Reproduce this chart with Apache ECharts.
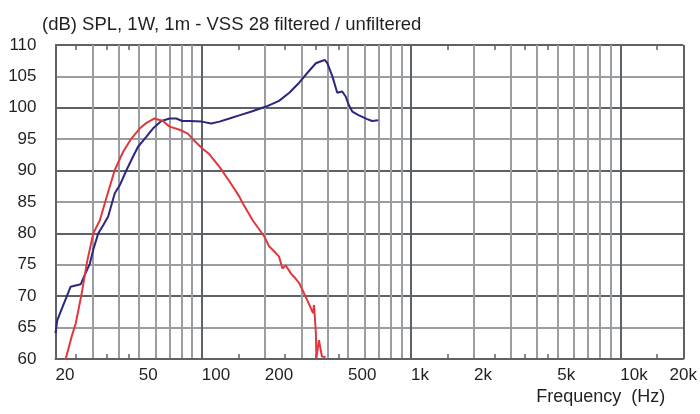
<!DOCTYPE html>
<html>
<head>
<meta charset="utf-8">
<script src="https://cdn.jsdelivr.net/npm/echarts@6/dist/echarts.min.js"></script>
<style>
html,body{margin:0;padding:0;background:#fff;}
#chart{width:700px;height:414px;}
</style>
</head>
<body>
<div id="chart"></div>
<script>
// Blue curve: [frequency Hz, SPL dB]
const blueCurve = [[20,64.1],[20.4,66.2],[23.6,71.5],[26.4,71.9],[27.1,72.8],[29.2,75.2],[30.3,77.4],[32.0,80.0],[33.8,81.3],[35.7,82.7],[38.4,86.4],[40.6,87.7],[43.7,90.1],[46.9,92.2],[49.6,93.8],[54.4,95.4],[58.4,96.7],[64.1,97.9],[70.2,98.3],[75.5,98.3],[80.7,97.9],[87.4,97.9],[100,97.8],[110.9,97.5],[121.5,97.8],[135.5,98.3],[151,98.8],[173,99.4],[203,100.2],[234,101.1],[262,102.4],[292,104.0],[326,105.9],[351,107.1],[377,107.5],[388,107.6],[398,107.1],[421,105.0],[444,102.4],[469,102.6],[487,101.8],[505,100.4],[524,99.4],[564,98.8],[617,98.2],[652,97.9],[697,98.0]];
// Red curve: [frequency Hz, SPL dB]
const redCurve = [[22.2,59.6],[23.9,63.6],[25.0,65.7],[26.7,70.5],[28.2,75.2],[30.3,80.0],[32.6,82.1],[35.1,85.8],[38.4,90.1],[42.1,93.0],[46.1,95.1],[50.5,96.7],[54.4,97.6],[59.5,98.3],[65.2,97.9],[70.2,97.0],[78.3,96.5],[85.8,95.9],[90.6,95.0],[100,93.6],[108.8,92.6],[121.5,90.6],[135.5,88.3],[151,85.9],[157,84.8],[175,82.1],[199,79.5],[210,77.9],[218,77.4],[234,76.3],[243,74.4],[252,74.9],[267,73.6],[276,73.1],[292,72.1],[314,69.9],[332,68.1],[340,67.3],[344,68.6],[351,64.1],[353,60.1],[363,63.0],[375,60.4],[391,60.3]];
// Axis labels and small ticks
const xLabelValues = [20,50,100,200,500,1000,2000,5000,10000,20000];
const xSmallTicks = [25,35,45,150,250,350,450,1500,2500,3500,4500,15000];
const xMin = 20, xMax = 20000;
const yMin = 60, yMax = 110, yStep = 5;
const titleText = '(dB) SPL, 1W, 1m - VSS 28 filtered / unfiltered';
const xName = 'Frequency  (Hz)';

const DARK = '#5c6266', LIGHT = '#9b9ea1', TXT = '#231f20';
const FONT = 'Liberation Sans, Arial, Helvetica, sans-serif';

function fmtFreq(v){ v = Math.round(v); return v >= 1000 ? (v/1000) + 'k' : String(v); }

const chart = echarts.init(document.getElementById('chart'), null, {renderer:'canvas'});
chart.setOption({
  animation:false,
  backgroundColor:'#fff',
  title:{ text:titleText, left:37, top:10, textStyle:{fontFamily:FONT,fontSize:18.5,fontWeight:'normal',color:TXT} },
  grid:{ left:55.5, right:14.5, top:45, bottom:55, containLabel:false },
  xAxis:[
    { type:'log', logBase:10, min:xMin, max:xMax, position:'bottom',
      axisLine:{show:true, lineStyle:{color:DARK,width:2}},
      axisTick:{show:true, inside:true, length:5, customValues:xSmallTicks, lineStyle:{color:DARK,width:1.5}},
      axisLabel:{show:true, customValues:xLabelValues, formatter:fmtFreq, align:'left', margin:8,
                 fontFamily:FONT, fontSize:17, color:TXT, alignMaxLabel:'center'},
      splitLine:{show:false}, minorTick:{show:false}, minorSplitLine:{show:false},
      name:xName, nameLocation:'end', nameGap:-18,
      nameTextStyle:{fontFamily:FONT,fontSize:18,color:TXT,align:'right',verticalAlign:'top',padding:[29,0,0,0]}
    },
    { type:'log', logBase:10, min:xMin, max:xMax, position:'bottom',
      axisLine:{show:false}, axisTick:{show:false}, axisLabel:{show:false},
      splitLine:{show:true, lineStyle:{color:DARK,width:2}},
      minorTick:{show:false, splitNumber:9},
      minorSplitLine:{show:true, lineStyle:{color:LIGHT,width:2}}
    },
    { type:'log', logBase:10, min:xMin, max:xMax, position:'top',
      axisLine:{show:false},
      axisTick:{show:true, inside:true, length:5, customValues:xSmallTicks, lineStyle:{color:DARK,width:1.5}},
      axisLabel:{show:false}, splitLine:{show:false}
    }
  ],
  yAxis:{ type:'value', min:yMin, max:yMax, interval:yStep,
    axisLine:{show:true, lineStyle:{color:DARK,width:2}},
    axisTick:{show:false},
    axisLabel:{fontFamily:FONT,fontSize:17,color:TXT,margin:19},
    splitLine:{show:true, lineStyle:{color:[DARK,LIGHT],width:2}}
  },
  series:[
    { type:'line', xAxisIndex:0, data:blueCurve, showSymbol:false, symbol:'none', lineStyle:{color:'#2c2680',width:2}, z:3 },
    { type:'line', xAxisIndex:0, data:redCurve, showSymbol:false, symbol:'none', lineStyle:{color:'#e0383c',width:2}, z:4 }
  ]
});
</script>
</body>
</html>
